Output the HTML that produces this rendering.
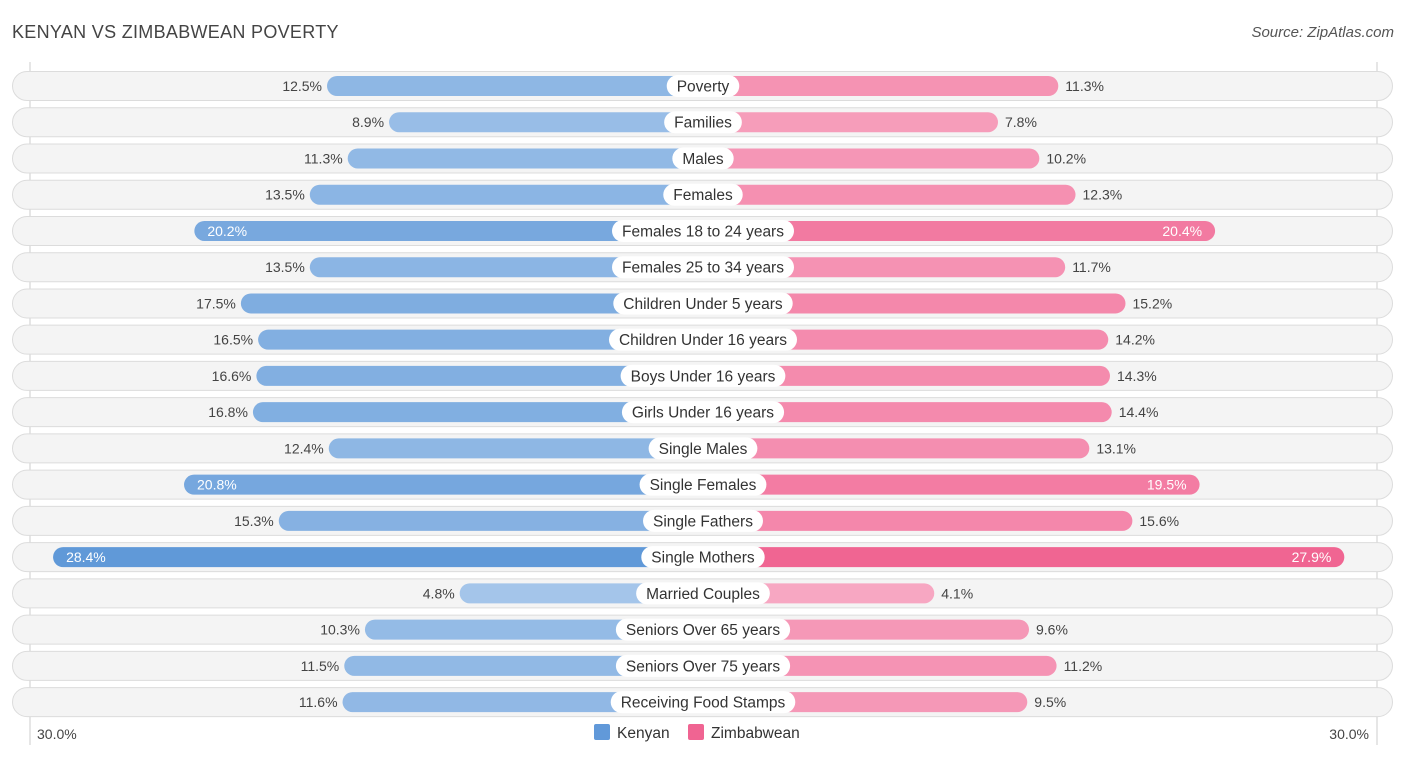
<!DOCTYPE html>
<html><head><meta charset="utf-8"><style>
body{margin:0;background:#fff;font-family:"Liberation Sans",sans-serif;}
#wrap{position:relative;width:1406px;height:758px;}
.title{position:absolute;left:12px;top:22px;font-size:18px;color:#444;letter-spacing:.3px}
.src{position:absolute;right:12px;top:24px;font-size:15px;color:#555;font-style:italic}
</style></head><body><div id="wrap">
<div class="title">KENYAN VS ZIMBABWEAN POVERTY</div>
<div class="src">Source: ZipAtlas.com</div>
<svg id="svg" width="1406" height="758" style="position:absolute;left:0;top:0"></svg>
</div>
<script>
const categories=["Poverty","Families","Males","Females","Females 18 to 24 years","Females 25 to 34 years","Children Under 5 years","Children Under 16 years","Boys Under 16 years","Girls Under 16 years","Single Males","Single Females","Single Fathers","Single Mothers","Married Couples","Seniors Over 65 years","Seniors Over 75 years","Receiving Food Stamps"];
const kenyan=[12.5,8.9,11.3,13.5,20.2,13.5,17.5,16.5,16.6,16.8,12.4,20.8,15.3,28.4,4.8,10.3,11.5,11.6];
const zimbabwean=[11.3,7.8,10.2,12.3,20.4,11.7,15.2,14.2,14.3,14.4,13.1,19.5,15.6,27.9,4.1,9.6,11.2,9.5];
const axisTicks=["30.0%","30.0%"];
const NS="http://www.w3.org/2000/svg",svg=document.getElementById('svg');
const cx=703,off=160.6,k=17.23,y0=86,dy=36.24;
const len=v=>off+k*v;
const yPos=i=>y0+i*dy;
function mk(t,a,p){const e=document.createElementNS(NS,t);for(const q in a)e.setAttribute(q,a[q]);(p||svg).appendChild(e);return e;}
function mix(c1,c2,t){return 'rgb('+c1.map((c,i)=>Math.round(c+(c2[i]-c)*t)).join(',')+')';}
const gl=mk('line',{x1:30,x2:30,y1:62,y2:745,stroke:'#ccc','stroke-width':1});

const gr=mk('line',{x1:1377,x2:1377,y1:62,y2:745,stroke:'#ccc','stroke-width':1});

categories.forEach((c,i)=>{
 const y=yPos(i);
 const g=mk('g',{});
 
 
 const bg=mk('rect',{x:12.5,y:y-14.5,width:1380,height:29,rx:14.5,fill:'#f4f4f4',stroke:'#dcdcdc'},g);
 
 const kv=kenyan[i],zv=zimbabwean[i];
 const tk=Math.min(1,kv/28.4),tz=Math.min(1,zv/28.4);
 const kc=mix([178,206,238],[96,153,216],tk),zc=mix([248,178,202],[240,100,145],tz);
 const kl=len(kv),zl=len(zv);
 const kb=mk('rect',{x:cx-kl,y:y-10,width:kl,height:20,rx:10,fill:kc},g);
 
 const zb=mk('rect',{x:cx,y:y-10,width:zl,height:20,rx:10,fill:zc},g);
 
 const inK=kv>=19,inZ=zv>=19;
 const kt=mk('text',{x:inK?cx-kl+13:cx-kl-5,y:y+5,'font-size':14,fill:inK?'#fff':'#444','text-anchor':inK?'start':'end'},g);
 kt.textContent=kv.toFixed(1)+'%';
 const zt=mk('text',{x:inZ?cx+zl-13:cx+zl+7,y:y+5,'font-size':14,fill:inZ?'#fff':'#444','text-anchor':inZ?'end':'start'},g);
 zt.textContent=zv.toFixed(1)+'%';
 const lt=mk('text',{x:cx,y:y+5.5,'font-size':15.5,fill:'#333','text-anchor':'middle'},g);
 lt.textContent=c;
 const w=lt.getComputedTextLength()+20;
 const lb=mk('rect',{x:cx-w/2,y:y-11,width:w,height:22,rx:11,fill:'#fff'},g);
 g.insertBefore(lb,lt);
 
 
});
const a1=mk('text',{x:37,y:739,'font-size':14,fill:'#444'});a1.textContent=axisTicks[0];

const a2=mk('text',{x:1369,y:739,'font-size':14,fill:'#444','text-anchor':'end'});a2.textContent=axisTicks[1];

const l1=mk('rect',{x:594,y:724,width:16,height:16,rx:2,fill:'#6199d9'});

const t1=mk('text',{x:617,y:738,'font-size':15.5,fill:'#333'});t1.textContent='Kenyan';

const l2=mk('rect',{x:688,y:724,width:16,height:16,rx:2,fill:'#f06492'});

const t2=mk('text',{x:711,y:738,'font-size':15.5,fill:'#333'});t2.textContent='Zimbabwean';

</script></body></html>
